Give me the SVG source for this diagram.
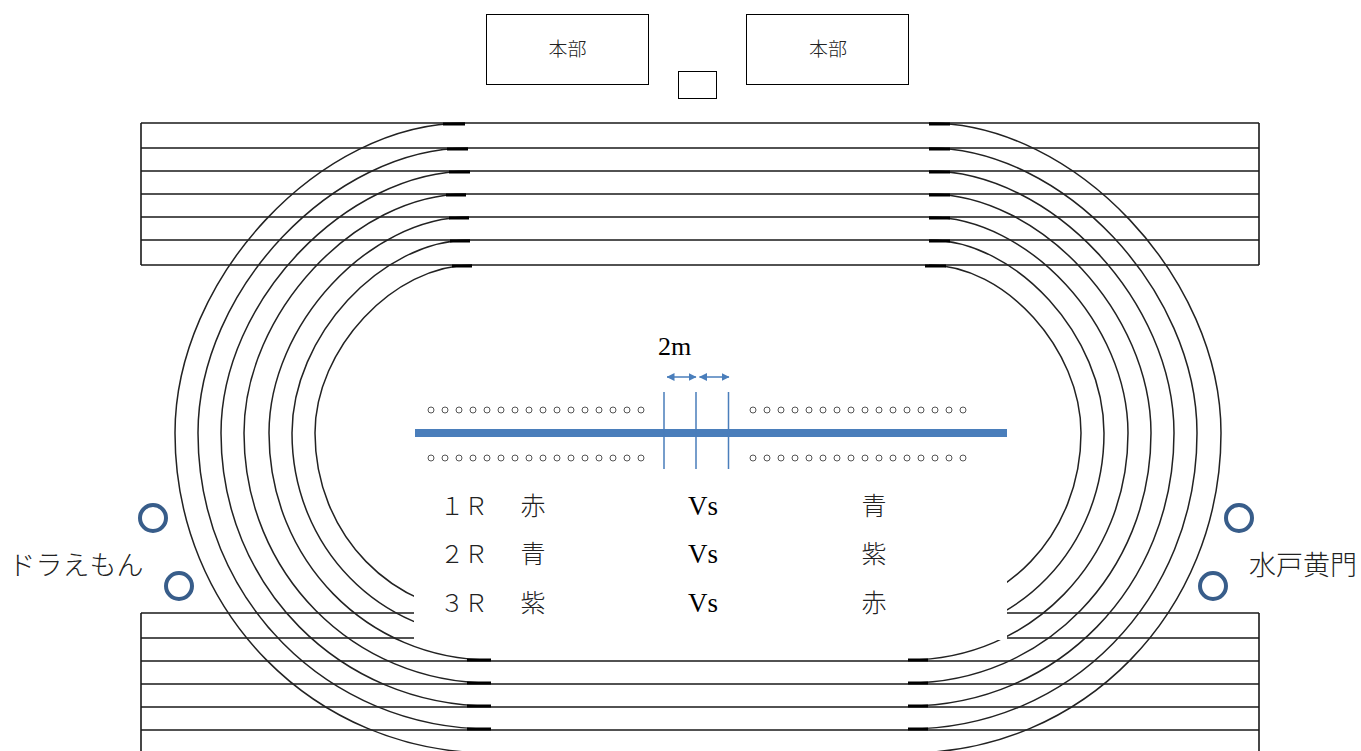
<svg xmlns="http://www.w3.org/2000/svg" width="1361" height="751" viewBox="0 0 1361 751">
<style>
.box{fill:#fff;stroke:#000;stroke-width:1}
.ln{fill:none;stroke:#1a1a1a;stroke-width:1.6}
.cv{fill:none;stroke:#222;stroke-width:1.5}
.end{fill:none;stroke:#000;stroke-width:3}
.bl{stroke:#4a7ebb;fill:none}
.dot{fill:#fff;stroke:#555;stroke-width:1}
.ring{fill:none;stroke:#385d8a;stroke-width:4}
.jp{font-family:"Noto Sans CJK JP","Liberation Serif",sans-serif;font-weight:300;fill:#222;text-anchor:middle}
.se{font-family:"Liberation Serif",serif;fill:#000;text-anchor:middle}
</style>
<defs>
<marker id="ah" viewBox="0 0 8 8" refX="7.5" refY="4" markerWidth="8" markerHeight="8" orient="auto-start-reverse" markerUnits="userSpaceOnUse"><path d="M0,0L8,4L0,8Z" fill="#4a7ebb"/></marker>
<g id="dots"><circle class="dot" cx="0" r="3"/><circle class="dot" cx="14" r="3"/><circle class="dot" cx="28" r="3"/><circle class="dot" cx="42" r="3"/><circle class="dot" cx="56" r="3"/><circle class="dot" cx="70" r="3"/><circle class="dot" cx="84" r="3"/><circle class="dot" cx="98" r="3"/><circle class="dot" cx="112" r="3"/><circle class="dot" cx="126" r="3"/><circle class="dot" cx="140" r="3"/><circle class="dot" cx="154" r="3"/><circle class="dot" cx="168" r="3"/><circle class="dot" cx="182" r="3"/><circle class="dot" cx="196" r="3"/><circle class="dot" cx="210" r="3"/></g>
</defs>
<rect width="1361" height="751" fill="#fff"/>
<g id="lanes">
<path class="ln" d="M141,123H1259M141,148H1259M141,171H1259M141,194H1259M141,217H1259M141,240H1259M141,265H1259M141,123V265M1259,123V265"/>
<path class="ln" d="M141,613H1259M141,638H1259M141,661H1259M141,684H1259M141,707H1259M141,730H1259M141,613V751M1259,613V751"/>
</g>
<g id="curves">
<path class="cv" d="M465,123C320,123 175,278 175,433C175,612 314,753 491,753"/>
<path class="cv" d="M468,148C333,148 198,290.5 198,433C198,599 327,729 491,729"/>
<path class="cv" d="M470,171C345.5,171 221,302 221,433C221,586 340,706 491,706"/>
<path class="cv" d="M466,194C355,194 244,313.5 244,433C244,573 353,683 491,683"/>
<path class="cv" d="M469,217C369,217 269,325 269,433C269,560 367,660 491,660"/>
<path class="cv" d="M470,240C381,240 292,336.5 292,433C292,547 380,637 491,637"/>
<path class="cv" d="M472,265C393.5,265 315,349 315,433C315,534 392,614 491,614"/>
<path class="cv" d="M929,123C1075,123 1221,278 1221,433C1221,612 1083,753 908,753"/>
<path class="cv" d="M929,148C1063,148 1197,290.5 1197,433C1197,599 1070,729 908,729"/>
<path class="cv" d="M929,171C1051.5,171 1174,302 1174,433C1174,586 1057,706 908,706"/>
<path class="cv" d="M929,194C1040,194 1151,313.5 1151,433C1151,573 1044,683 908,683"/>
<path class="cv" d="M929,217C1028.5,217 1128,325 1128,433C1128,560 1031,660 908,660"/>
<path class="cv" d="M929,240C1016.5,240 1104,336.5 1104,433C1104,547 1018,637 908,637"/>
<path class="cv" d="M929,265C1005,265 1081,349 1081,433C1081,534 1005,614 908,614"/>
<path class="end" d="M443,124H465M447,149H468M449,172H470M446,195H466M449,218H469M450,241H470M452,266H472M929,124H950M929,149H950M929,172H950M929,195H950M929,218H950M929,241H950M925,266H946M467,660H491M467,683H491M467,706H491M467,729H491M908,660H928M908,683H928M908,706H928M908,729H928"/>
</g>
<rect id="infield-mask" x="414" y="480" width="593" height="160" fill="#fff"/>
<g id="honbu-1"><rect class="box" x="486.500" y="14.500" width="162" height="70"/><text class="jp" x="567.500" y="56" font-size="19">本部</text></g>
<g id="honbu-2"><rect class="box" x="746.500" y="14.500" width="162" height="70"/><text class="jp" x="828" y="56" font-size="19">本部</text></g>
<g id="small-box"><rect class="box" x="678.500" y="71.500" width="38" height="27"/></g>
<g id="court">
<rect x="415" y="429" width="592" height="8" fill="#4a7ebb"/>
<path class="bl" stroke-width="1.500" d="M664,392V469M696,392V469M728.500,392V469"/>
<path class="bl" stroke-width="1.500" marker-start="url(#ah)" marker-end="url(#ah)" d="M667,377H696"/>
<path class="bl" stroke-width="1.500" marker-start="url(#ah)" marker-end="url(#ah)" d="M699.500,377H729"/>
<use href="#dots" x="431" y="410"/><use href="#dots" x="431" y="458"/>
<use href="#dots" x="753" y="410"/><use href="#dots" x="753" y="458"/>
<text class="se" x="674.500" y="355" font-size="26">2m</text>
</g>
<g id="rounds">
<text class="jp" x="464" y="515" font-size="24">１Ｒ</text><text class="jp" x="533" y="515" font-size="25">赤</text><text class="se" x="703" y="515" font-size="27">Vs</text><text class="jp" x="874" y="515" font-size="25">青</text>
<text class="jp" x="464" y="563" font-size="24">２Ｒ</text><text class="jp" x="533" y="563" font-size="25">青</text><text class="se" x="703" y="563" font-size="27">Vs</text><text class="jp" x="874" y="563" font-size="25">紫</text>
<text class="jp" x="464" y="612" font-size="24">３Ｒ</text><text class="jp" x="533" y="612" font-size="25">紫</text><text class="se" x="703" y="612" font-size="27">Vs</text><text class="jp" x="874" y="612" font-size="25">赤</text>
</g>
<g id="player-left"><circle class="ring" cx="153" cy="518" r="13"/><circle class="ring" cx="179" cy="586" r="13"/><text class="jp" x="76" y="575" font-size="27">ドラえもん</text></g>
<g id="player-right"><circle class="ring" cx="1239" cy="518" r="13"/><circle class="ring" cx="1213" cy="586" r="13"/><text class="jp" x="1303" y="575" font-size="27">水戸黄門</text></g>
</svg>
